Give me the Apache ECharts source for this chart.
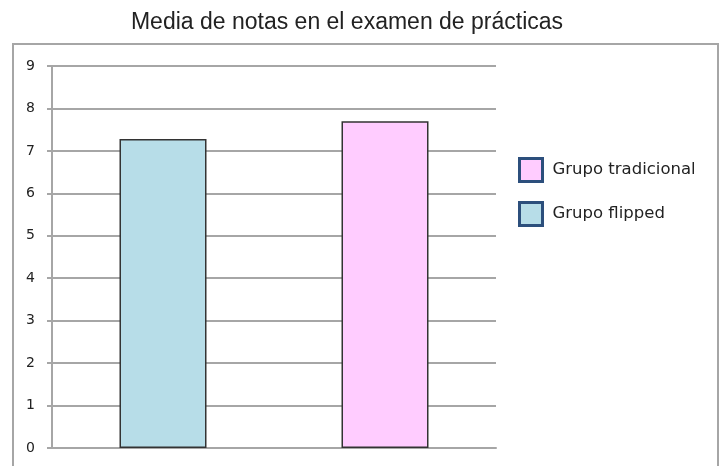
<!DOCTYPE html>
<html>
<head>
<meta charset="utf-8">
<script src="https://cdn.jsdelivr.net/npm/echarts@6/dist/echarts.min.js"></script>
<style>
  html, body { margin: 0; padding: 0; background: #fff; }
  #mychart { width: 723px; height: 466px; }
</style>
</head>
<body>
<div id="mychart"></div>
<script>
// datos
const categorias = ['Grupo flipped', 'Grupo tradicional'];
const tradicional = [null, 7.7];
const flipped = [7.28, null];
const yTicks = [0, 9, 1]; // min, max, intervalo

const myChart = echarts.init(document.getElementById('mychart'));

const option = {
  animation: false,
  title: {
    text: 'Media de notas en el examen de prácticas',
    left: 347,
    textAlign: 'center',
    top: 11,
    padding: 0,
    textStyle: {
      fontFamily: 'Liberation Sans',
      fontSize: 23,
      fontWeight: 'normal',
      color: '#222'
    }
  },
  graphic: [{
    type: 'rect',
    shape: { x: 13, y: 44, width: 705, height: 440 },
    style: { fill: 'none', stroke: '#a6a6a6', lineWidth: 2 },
    silent: true
  }],
  legend: {
    orient: 'vertical',
    left: 518,
    top: 157,
    padding: 0,
    itemWidth: 23,
    itemHeight: 23,
    itemGap: 18,
    icon: 'rect',
    data: ['Grupo tradicional', 'Grupo flipped'],
    itemStyle: { borderColor: '#2c4f7c', borderWidth: 3 },
    textStyle: { fontFamily: 'DejaVu Sans', fontSize: 16.5, color: '#222', padding: [0, 0, 0, 5] }
  },
  grid: { left: 52, right: 227, top: 66, bottom: 18 },
  xAxis: {
    type: 'category',
    data: categorias,
    axisLabel: { show: false },
    axisTick: { show: false },
    axisLine: { lineStyle: { color: '#a6a6a6', width: 2 } }
  },
  yAxis: {
    type: 'value',
    min: yTicks[0],
    max: yTicks[1],
    interval: yTicks[2],
    axisLine: { show: true, lineStyle: { color: '#a6a6a6', width: 2 } },
    axisTick: { show: true, length: 5, lineStyle: { color: '#a6a6a6', width: 2 } },
    axisLabel: { margin: 17, fontFamily: 'DejaVu Sans', fontSize: 14, color: '#222' },
    splitLine: { lineStyle: { color: '#a6a6a6', width: 2 } }
  },
  series: [
    {
      name: 'Grupo tradicional',
      type: 'bar',
      data: tradicional,
      barWidth: 87,
      barGap: '-100%',
      itemStyle: { color: '#ffccff', borderColor: '#333', borderWidth: 1.5 }
    },
    {
      name: 'Grupo flipped',
      type: 'bar',
      data: flipped,
      barWidth: 87,
      itemStyle: { color: '#b7dde8', borderColor: '#333', borderWidth: 1.5 }
    }
  ]
};

myChart.setOption(option);
</script>
</body>
</html>
